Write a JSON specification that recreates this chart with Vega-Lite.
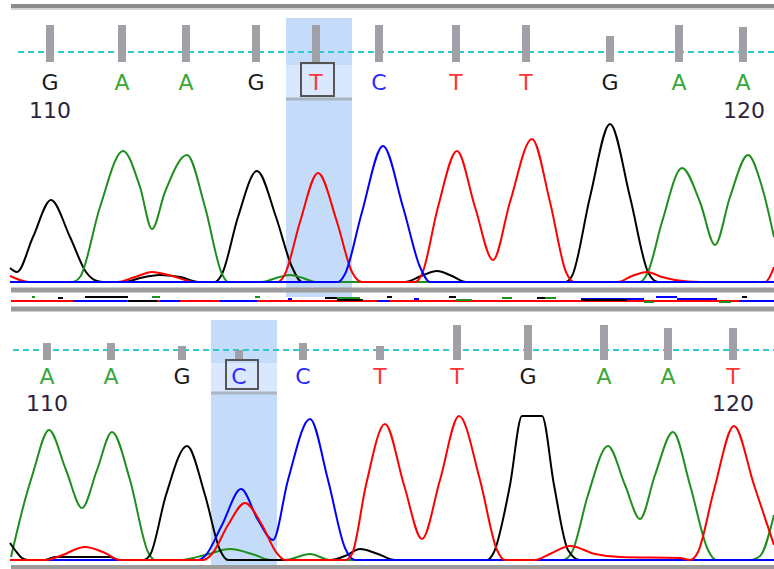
{
"$schema": "https://vega.github.io/schema/vega-lite/v6.json",
"padding": 0,
"spacing": 0,
"background": "white",
"config": {"view": {"stroke": null}},
"resolve": {"scale": {"x": "independent", "y": "independent"}},
"datasets": {
"bases1": [{"pos":50,"base":"G","q":257},{"pos":122,"base":"A","q":257},{"pos":186,"base":"A","q":257},{"pos":256,"base":"G","q":257},{"pos":316,"base":"T","q":257},{"pos":379,"base":"C","q":257},{"pos":456,"base":"T","q":257},{"pos":526,"base":"T","q":257},{"pos":610,"base":"G","q":246},{"pos":679,"base":"A","q":257},{"pos":743,"base":"A","q":255}],
"bases2": [{"pos":47,"base":"A","q":217},{"pos":111,"base":"A","q":217},{"pos":182,"base":"G","q":214},{"pos":239,"base":"C","q":210},{"pos":303,"base":"C","q":217},{"pos":380,"base":"T","q":214},{"pos":457,"base":"T","q":235},{"pos":528,"base":"G","q":235},{"pos":604,"base":"A","q":235},{"pos":668,"base":"A","q":232},{"pos":733,"base":"T","q":232}],
"nums1": [{"pos":50,"label":"110"},{"pos":744,"label":"120"}],
"nums2": [{"pos":47,"label":"110"},{"pos":733,"label":"120"}],
"trace1": [
{"x":10,"v":14,"b":"G"},{"x":17,"v":10,"b":"G"},{"x":33,"v":45,"b":"G"},{"x":51,"v":82,"b":"G"},{"x":70,"v":45,"b":"G"},{"x":86,"v":10,"b":"G"},{"x":97,"v":1,"b":"G"},{"x":104,"v":0,"b":"G"},{"x":125,"v":0,"b":"G"},{"x":140,"v":4,"b":"G"},{"x":160,"v":7,"b":"G"},{"x":180,"v":5,"b":"G"},{"x":200,"v":0,"b":"G"},{"x":215,"v":0,"b":"G"},{"x":222,"v":8,"b":"G"},{"x":238,"v":65,"b":"G"},{"x":257,"v":111,"b":"G"},{"x":276,"v":65,"b":"G"},{"x":292,"v":15,"b":"G"},{"x":302,"v":0,"b":"G"},{"x":405,"v":0,"b":"G"},{"x":421,"v":6,"b":"G"},{"x":437,"v":11,"b":"G"},{"x":452,"v":6,"b":"G"},{"x":466,"v":0,"b":"G"},{"x":565,"v":0,"b":"G"},{"x":572,"v":6,"b":"G"},{"x":590,"v":85,"b":"G"},{"x":610,"v":158,"b":"G"},{"x":630,"v":85,"b":"G"},{"x":648,"v":10,"b":"G"},{"x":658,"v":0,"b":"G"},{"x":774,"v":0,"b":"G"},
{"x":10,"v":0,"b":"A"},{"x":72,"v":0,"b":"A"},{"x":80,"v":5,"b":"A"},{"x":100,"v":75,"b":"A"},{"x":123,"v":131,"b":"A"},{"x":140,"v":95,"b":"A"},{"x":152,"v":53,"b":"A"},{"x":165,"v":90,"b":"A"},{"x":187,"v":127,"b":"A"},{"x":205,"v":75,"b":"A"},{"x":222,"v":8,"b":"A"},{"x":228,"v":0,"b":"A"},{"x":262,"v":0,"b":"A"},{"x":276,"v":4,"b":"A"},{"x":290,"v":7,"b":"A"},{"x":303,"v":4,"b":"A"},{"x":315,"v":0,"b":"A"},{"x":640,"v":0,"b":"A"},{"x":648,"v":10,"b":"A"},{"x":662,"v":60,"b":"A"},{"x":682,"v":114,"b":"A"},{"x":700,"v":80,"b":"A"},{"x":715,"v":37,"b":"A"},{"x":730,"v":85,"b":"A"},{"x":748,"v":127,"b":"A"},{"x":762,"v":95,"b":"A"},{"x":774,"v":45,"b":"A"},
{"x":10,"v":6,"b":"T"},{"x":20,"v":2,"b":"T"},{"x":28,"v":0,"b":"T"},{"x":118,"v":0,"b":"T"},{"x":135,"v":5,"b":"T"},{"x":152,"v":10,"b":"T"},{"x":172,"v":6,"b":"T"},{"x":195,"v":0,"b":"T"},{"x":278,"v":0,"b":"T"},{"x":285,"v":8,"b":"T"},{"x":300,"v":60,"b":"T"},{"x":318,"v":109,"b":"T"},{"x":337,"v":60,"b":"T"},{"x":352,"v":10,"b":"T"},{"x":362,"v":0,"b":"T"},{"x":415,"v":0,"b":"T"},{"x":422,"v":8,"b":"T"},{"x":438,"v":75,"b":"T"},{"x":457,"v":131,"b":"T"},{"x":475,"v":75,"b":"T"},{"x":493,"v":22,"b":"T"},{"x":510,"v":80,"b":"T"},{"x":532,"v":143,"b":"T"},{"x":550,"v":80,"b":"T"},{"x":566,"v":10,"b":"T"},{"x":574,"v":0,"b":"T"},{"x":618,"v":0,"b":"T"},{"x":632,"v":6,"b":"T"},{"x":647,"v":10,"b":"T"},{"x":662,"v":5,"b":"T"},{"x":675,"v":2,"b":"T"},{"x":700,"v":0,"b":"T"},{"x":765,"v":0,"b":"T"},{"x":774,"v":15,"b":"T"},
{"x":10,"v":0,"b":"C"},{"x":338,"v":0,"b":"C"},{"x":345,"v":8,"b":"C"},{"x":362,"v":70,"b":"C"},{"x":383,"v":136,"b":"C"},{"x":403,"v":75,"b":"C"},{"x":420,"v":15,"b":"C"},{"x":430,"v":0,"b":"C"},{"x":774,"v":0,"b":"C"}
],
"trace2": [
{"x":11,"v":3,"b":"A"},{"x":25,"v":60,"b":"A"},{"x":33,"v":87,"b":"A"},{"x":49,"v":130,"b":"A"},{"x":66,"v":90,"b":"A"},{"x":82,"v":52,"b":"A"},{"x":97,"v":90,"b":"A"},{"x":112,"v":128,"b":"A"},{"x":130,"v":80,"b":"A"},{"x":148,"v":8,"b":"A"},{"x":155,"v":0,"b":"A"},{"x":180,"v":0,"b":"A"},{"x":205,"v":5,"b":"A"},{"x":230,"v":11,"b":"A"},{"x":255,"v":5,"b":"A"},{"x":270,"v":0,"b":"A"},{"x":285,"v":0,"b":"A"},{"x":310,"v":6,"b":"A"},{"x":330,"v":0,"b":"A"},{"x":563,"v":0,"b":"A"},{"x":572,"v":8,"b":"A"},{"x":588,"v":65,"b":"A"},{"x":608,"v":114,"b":"A"},{"x":625,"v":75,"b":"A"},{"x":640,"v":41,"b":"A"},{"x":655,"v":85,"b":"A"},{"x":673,"v":128,"b":"A"},{"x":690,"v":75,"b":"A"},{"x":708,"v":10,"b":"A"},{"x":716,"v":0,"b":"A"},{"x":750,"v":0,"b":"A"},{"x":760,"v":4,"b":"A"},{"x":774,"v":45,"b":"A"},
{"x":10,"v":17,"b":"G"},{"x":15,"v":10,"b":"G"},{"x":22,"v":2,"b":"G"},{"x":28,"v":0,"b":"G"},{"x":45,"v":0,"b":"G"},{"x":55,"v":3,"b":"G"},{"x":110,"v":3,"b":"G"},{"x":118,"v":0,"b":"G"},{"x":143,"v":0,"b":"G"},{"x":150,"v":5,"b":"G"},{"x":166,"v":65,"b":"G"},{"x":187,"v":114,"b":"G"},{"x":205,"v":65,"b":"G"},{"x":220,"v":10,"b":"G"},{"x":228,"v":0,"b":"G"},{"x":330,"v":0,"b":"G"},{"x":345,"v":4,"b":"G"},{"x":360,"v":11,"b":"G"},{"x":378,"v":6,"b":"G"},{"x":395,"v":0,"b":"G"},{"x":487,"v":0,"b":"G"},{"x":494,"v":8,"b":"G"},{"x":510,"v":75,"b":"G"},{"x":522,"v":144,"b":"G"},{"x":542,"v":144,"b":"G"},{"x":554,"v":75,"b":"G"},{"x":568,"v":10,"b":"G"},{"x":580,"v":0,"b":"G"},{"x":774,"v":0,"b":"G"},
{"x":10,"v":0,"b":"C"},{"x":198,"v":0,"b":"C"},{"x":205,"v":4,"b":"C"},{"x":222,"v":35,"b":"C"},{"x":241,"v":71,"b":"C"},{"x":258,"v":40,"b":"C"},{"x":273,"v":20,"b":"C"},{"x":288,"v":80,"b":"C"},{"x":310,"v":141,"b":"C"},{"x":328,"v":80,"b":"C"},{"x":345,"v":12,"b":"C"},{"x":355,"v":0,"b":"C"},{"x":774,"v":0,"b":"C"},
{"x":10,"v":0,"b":"T"},{"x":45,"v":0,"b":"T"},{"x":60,"v":4,"b":"T"},{"x":85,"v":13,"b":"T"},{"x":105,"v":7,"b":"T"},{"x":120,"v":0,"b":"T"},{"x":203,"v":0,"b":"T"},{"x":212,"v":6,"b":"T"},{"x":228,"v":35,"b":"T"},{"x":245,"v":57,"b":"T"},{"x":262,"v":35,"b":"T"},{"x":276,"v":8,"b":"T"},{"x":285,"v":0,"b":"T"},{"x":345,"v":0,"b":"T"},{"x":352,"v":6,"b":"T"},{"x":366,"v":75,"b":"T"},{"x":385,"v":136,"b":"T"},{"x":404,"v":75,"b":"T"},{"x":422,"v":21,"b":"T"},{"x":440,"v":80,"b":"T"},{"x":459,"v":144,"b":"T"},{"x":480,"v":80,"b":"T"},{"x":497,"v":10,"b":"T"},{"x":505,"v":0,"b":"T"},{"x":535,"v":0,"b":"T"},{"x":550,"v":6,"b":"T"},{"x":570,"v":14,"b":"T"},{"x":595,"v":6,"b":"T"},{"x":620,"v":3,"b":"T"},{"x":680,"v":2,"b":"T"},{"x":690,"v":0,"b":"T"},{"x":698,"v":8,"b":"T"},{"x":714,"v":70,"b":"T"},{"x":734,"v":134,"b":"T"},{"x":754,"v":75,"b":"T"},{"x":774,"v":15,"b":"T"}
],
"strip": [
{"s":11,"e":774,"v":-19,"b":"T"},
{"s":73,"e":127,"v":-19,"b":"C"},{"s":160,"e":180,"v":-19,"b":"C"},{"s":220,"e":257,"v":-19,"b":"C"},{"s":288,"e":292,"v":-17,"b":"C"},{"s":377,"e":390,"v":-19,"b":"C"},{"s":414,"e":419,"v":-17,"b":"C"},{"s":581,"e":644,"v":-17,"b":"C"},{"s":656,"e":677,"v":-15,"b":"C"},{"s":677,"e":717,"v":-17,"b":"C"},{"s":739,"e":774,"v":-19,"b":"C"},
{"s":58,"e":63,"v":-16,"b":"G"},{"s":85,"e":128,"v":-15,"b":"G"},{"s":128,"e":157,"v":-19,"b":"G"},{"s":325,"e":337,"v":-16,"b":"G"},{"s":337,"e":363,"v":-18,"b":"G"},{"s":387,"e":392,"v":-15,"b":"G"},{"s":449,"e":456,"v":-15,"b":"G"},{"s":537,"e":556,"v":-16,"b":"G"},{"s":581,"e":627,"v":-18,"b":"G"},{"s":742,"e":747,"v":-15,"b":"G"},
{"s":32,"e":35,"v":-15,"b":"A"},{"s":152,"e":160,"v":-15,"b":"A"},{"s":255,"e":260,"v":-15,"b":"A"},{"s":337,"e":360,"v":-16,"b":"A"},{"s":456,"e":472,"v":-18,"b":"A"},{"s":502,"e":512,"v":-16,"b":"A"},{"s":545,"e":556,"v":-16,"b":"A"},{"s":644,"e":654,"v":-20,"b":"A"},{"s":719,"e":731,"v":-20,"b":"A"}
]
},
"vconcat": [
{
"width": 774, "height": 314,
"layer": [
{"data":{"values":[{}]},"mark":{"type":"rect","color":"#c4dbf9"},"encoding":{"x":{"datum":286,"scale":{"domain":[0,774],"nice":false,"zero":false},"axis":null},"x2":{"datum":352},"y":{"datum":264,"scale":{"domain":[-32,282],"nice":false,"zero":false},"axis":null},"y2":{"datum":-15}}},
{"data":{"values":[{}]},"mark":{"type":"rect","color":"#d9e8fc"},"encoding":{"x":{"datum":286},"x2":{"datum":352},"y":{"datum":217},"y2":{"datum":184}}},
{"data":{"values":[{}]},"mark":{"type":"rule","color":"#aab4c4","strokeWidth":3},"encoding":{"x":{"datum":286},"x2":{"datum":352},"y":{"datum":183}}},
{"data":{"values":[{}]},"mark":{"type":"rule","color":"#8c8c8c","strokeWidth":4},"encoding":{"x":{"datum":11},"x2":{"datum":774},"y":{"datum":276}}},
{"data":{"values":[{}]},"mark":{"type":"rule","color":"#d4d4d4","strokeWidth":2},"encoding":{"x":{"datum":11},"x2":{"datum":774},"y":{"datum":273}}},
{"data":{"values":[{}]},"mark":{"type":"rule","color":"#2ccaca","strokeWidth":2,"strokeDash":[6,4]},"encoding":{"x":{"datum":18},"x2":{"datum":774},"y":{"datum":230}}},
{"data":{"name":"bases1"},"mark":{"type":"rule","color":"#a0a0a6","strokeWidth":8},"encoding":{"x":{"field":"pos","type":"quantitative"},"y":{"field":"q","type":"quantitative"},"y2":{"datum":220}}},
{"data":{"name":"bases1"},"mark":{"type":"text","font":"DejaVu Sans","fontSize":22,"align":"center","baseline":"alphabetic"},"encoding":{"x":{"field":"pos","type":"quantitative"},"y":{"datum":192},"text":{"field":"base"},"fill":{"field":"base","type":"nominal","scale":{"domain":["A","C","G","T"],"range":["#3aa83a","#2a2aff","#1a1a1a","#ff3535"]},"legend":null}}},
{"data":{"values":[{}]},"mark":{"type":"rect","fillOpacity":0,"stroke":"#555555","strokeWidth":2},"encoding":{"x":{"datum":301},"x2":{"datum":334},"y":{"datum":219},"y2":{"datum":186}}},
{"data":{"name":"nums1"},"mark":{"type":"text","font":"DejaVu Sans","fontSize":22,"align":"center","baseline":"alphabetic","color":"#2d2340"},"encoding":{"x":{"field":"pos","type":"quantitative"},"y":{"datum":164},"text":{"field":"label"}}},
{"data":{"name":"trace1"},"mark":{"type":"line","strokeWidth":2,"interpolate":"monotone","clip":true},"encoding":{"x":{"field":"x","type":"quantitative"},"y":{"field":"v","type":"quantitative"},"stroke":{"field":"b","type":"nominal","scale":{"domain":["A","C","G","T"],"range":["#1e8f1e","#0000ff","#000000","#ff0000"]},"legend":null}}},
{"data":{"values":[{}]},"mark":{"type":"rule","color":"#9c9c9c","strokeWidth":5},"encoding":{"x":{"datum":11},"x2":{"datum":774},"y":{"datum":-8}}},
{"data":{"name":"strip"},"mark":{"type":"rule","strokeWidth":2},"encoding":{"x":{"field":"s","type":"quantitative"},"x2":{"field":"e"},"y":{"field":"v","type":"quantitative"},"stroke":{"field":"b","type":"nominal","scale":{"domain":["A","C","G","T"],"range":["#1e8f1e","#0000ff","#000000","#ff0000"]},"legend":null}}},
{"data":{"values":[{}]},"mark":{"type":"rule","color":"#9c9c9c","strokeWidth":5},"encoding":{"x":{"datum":11},"x2":{"datum":774},"y":{"datum":-27}}}
]
},
{
"width": 774, "height": 255,
"layer": [
{"data":{"values":[{}]},"mark":{"type":"rect","color":"#c4dbf9"},"encoding":{"x":{"datum":211,"scale":{"domain":[0,774],"nice":false,"zero":false},"axis":null},"x2":{"datum":277},"y":{"datum":240,"scale":{"domain":[-9,246],"nice":false,"zero":false},"axis":null},"y2":{"datum":-5}}},
{"data":{"values":[{}]},"mark":{"type":"rect","color":"#d9e8fc"},"encoding":{"x":{"datum":211},"x2":{"datum":277},"y":{"datum":197},"y2":{"datum":168}}},
{"data":{"values":[{}]},"mark":{"type":"rule","color":"#aab4c4","strokeWidth":3},"encoding":{"x":{"datum":211},"x2":{"datum":277},"y":{"datum":167}}},
{"data":{"values":[{}]},"mark":{"type":"rule","color":"#2ccaca","strokeWidth":2,"strokeDash":[6,4]},"encoding":{"x":{"datum":13},"x2":{"datum":774},"y":{"datum":210}}},
{"data":{"name":"bases2"},"mark":{"type":"rule","color":"#a0a0a6","strokeWidth":8},"encoding":{"x":{"field":"pos","type":"quantitative"},"y":{"field":"q","type":"quantitative"},"y2":{"datum":200}}},
{"data":{"name":"bases2"},"mark":{"type":"text","font":"DejaVu Sans","fontSize":22,"align":"center","baseline":"alphabetic"},"encoding":{"x":{"field":"pos","type":"quantitative"},"y":{"datum":176},"text":{"field":"base"},"fill":{"field":"base","type":"nominal","scale":{"domain":["A","C","G","T"],"range":["#3aa83a","#2a2aff","#1a1a1a","#ff3535"]},"legend":null}}},
{"data":{"values":[{}]},"mark":{"type":"rect","fillOpacity":0,"stroke":"#555555","strokeWidth":2},"encoding":{"x":{"datum":226},"x2":{"datum":258},"y":{"datum":200},"y2":{"datum":171}}},
{"data":{"name":"nums2"},"mark":{"type":"text","font":"DejaVu Sans","fontSize":22,"align":"center","baseline":"alphabetic","color":"#2d2340"},"encoding":{"x":{"field":"pos","type":"quantitative"},"y":{"datum":149},"text":{"field":"label"}}},
{"data":{"name":"trace2"},"mark":{"type":"line","strokeWidth":2,"interpolate":"monotone","clip":true},"encoding":{"x":{"field":"x","type":"quantitative"},"y":{"field":"v","type":"quantitative"},"stroke":{"field":"b","type":"nominal","scale":{"domain":["A","C","G","T"],"range":["#1e8f1e","#0000ff","#000000","#ff0000"]},"legend":null}}},
{"data":{"values":[{}]},"mark":{"type":"rule","color":"#9c9c9c","strokeWidth":4},"encoding":{"x":{"datum":11},"x2":{"datum":774},"y":{"datum":-7}}}
]
}
]
}
